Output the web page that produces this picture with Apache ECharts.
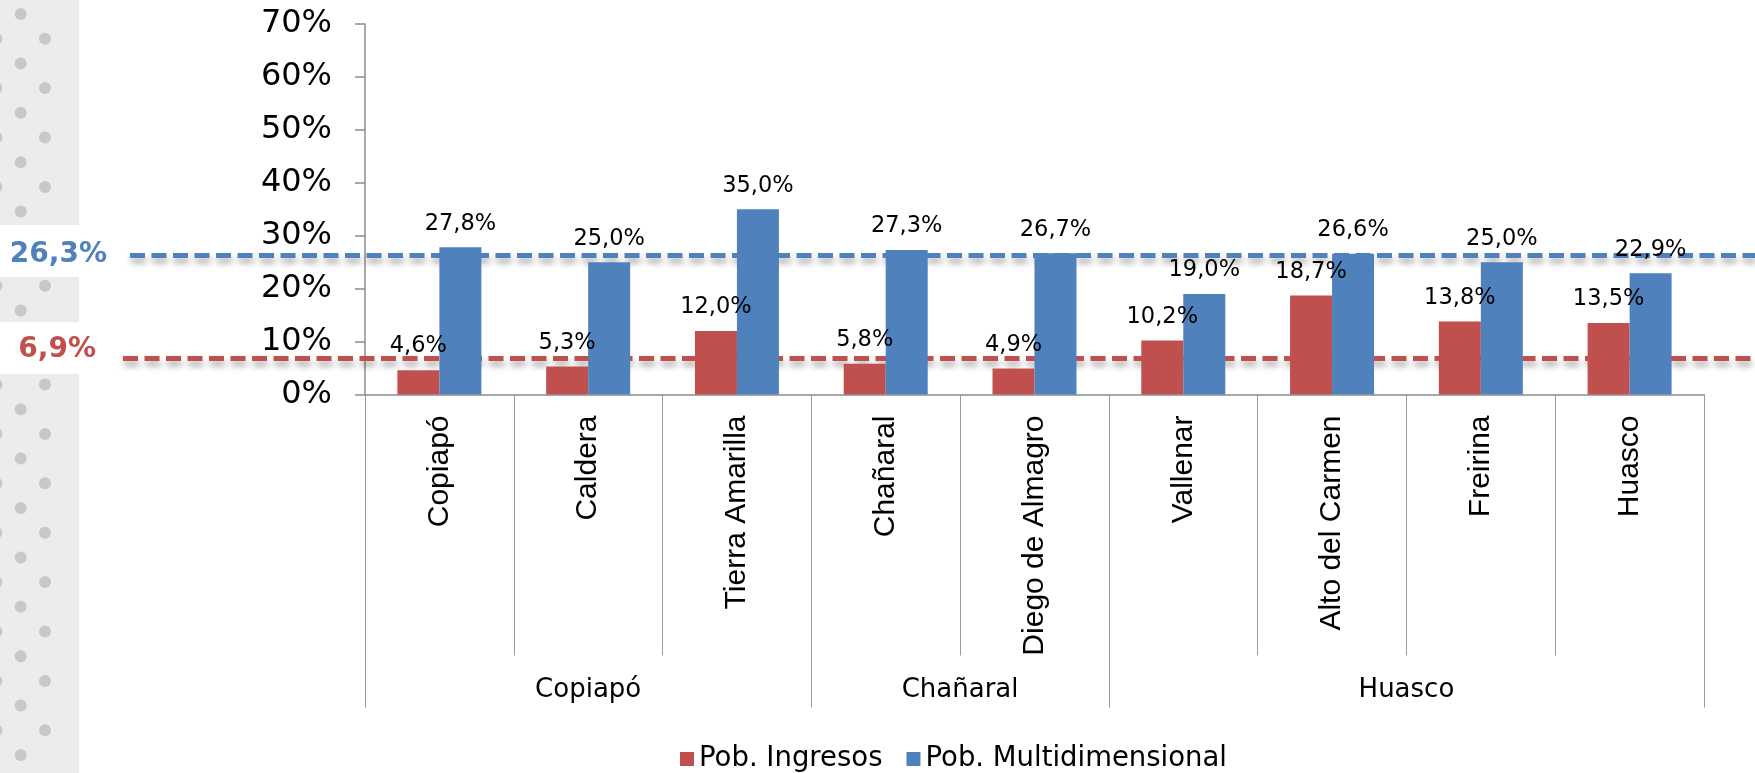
<!DOCTYPE html>
<html><head><meta charset="utf-8">
<script src="https://cdn.jsdelivr.net/npm/echarts@6/dist/echarts.min.js"></script>
<style>html,body{margin:0;padding:0;background:#fff}#c{width:1755px;height:773px}</style>
</head><body><div id="c"></div><script>
const categories = ['Copiapó','Caldera','Tierra Amarilla','Chañaral','Diego de Almagro','Vallenar','Alto del Carmen','Freirina','Huasco'];
const groups = ['Copiapó','Chañaral','Huasco'];
const groupSizes = [3, 2, 4];
const ingresos = [4.6, 5.3, 12.0, 5.8, 4.9, 10.2, 18.7, 13.8, 13.5];
const multidimensional = [27.8, 25.0, 35.0, 27.3, 26.7, 19.0, 26.6, 25.0, 22.9];
const regionalIngresos = 6.9;
const regionalMulti = 26.3;
const seriesNames = ['Pob. Ingresos', 'Pob. Multidimensional'];
const yMax = 70, yStep = 10;

const RED = '#c0504d', BLUE = '#4f81bd';
const fmt = v => v.toFixed(1).replace('.', ',') + '%';

// group boundaries / centers derived from group sizes
const groupBounds = [0];
groupSizes.forEach(s => groupBounds.push(groupBounds[groupBounds.length - 1] + s));
const groupCenters = groups.map((g, i) => (groupBounds[i] + groupBounds[i + 1]) / 2);

// decorative dotted side panel
const panelW = 79;
const panelGaps = [[225, 277], [322, 374]];
const deco = [];
let prev = 0;
panelGaps.forEach(g => { deco.push({type:'rect', shape:{x:0, y:prev, width:panelW, height:g[0]-prev}, style:{fill:'#ececec'}, silent:true}); prev = g[1]; });
deco.push({type:'rect', shape:{x:0, y:prev, width:panelW, height:773-prev}, style:{fill:'#ececec'}, silent:true});
const inGap = (cy, r) => panelGaps.some(g => cy + r > g[0] && cy - r < g[1]);
const dotR = 6, dy = 49.4;
for (let k = 0; k < 17; k++) {
  const ya = 14 + dy * k, yb = 38.7 + dy * k;
  [[20.7, ya], [45, yb], [-3.6, yb]].forEach(p => {
    if (p[1] - dotR < 773 && !inGap(p[1], dotR)) deco.push({type:'circle', shape:{cx:p[0], cy:p[1], r:dotR}, style:{fill:'#c8c8c8'}, silent:true});
  });
}

const chart = echarts.init(document.getElementById('c'), null, {renderer: 'canvas'});
const labelCommon = {show: true, position: 'top', distance: 12, fontSize: 22.5, fontFamily: 'DejaVu Sans', color: '#000', formatter: p => fmt(p.value)};
const lineShadow = {shadowColor: 'rgba(0,0,0,0.35)', shadowBlur: 6, shadowOffsetY: 5, shadowOffsetX: 1};
const refLabel = (value, color, dist, lift) => ({
  show: true, position: 'start', distance: dist,
  formatter: '{a|' + fmt(value) + '}\n{b| }',
  rich: {
    a: {color: color, fontWeight: 'bold', fontSize: 28, fontFamily: 'DejaVu Sans', lineHeight: 28},
    b: {fontSize: 2, lineHeight: lift * 2}
  }
});

chart.setOption({
  animation: false,
  backgroundColor: '#fff',
  graphic: {elements: deco},
  grid: {left: 365, right: 51, top: 24, bottom: 378.5, containLabel: false, outerBoundsMode: 'none'},
  legend: {
    data: seriesNames, left: 675, top: 740, itemWidth: 14, itemHeight: 14, itemGap: 24, icon: 'rect',
    textStyle: {fontSize: 27.5, fontFamily: 'DejaVu Sans', color: '#000'}
  },
  xAxis: [{
    type: 'category', data: categories, boundaryGap: true, position: 'bottom',
    axisLine: {show: true, lineStyle: {color: '#8c8c8c', width: 1.5}},
    axisTick: {show: true, interval: 0, length: 261, lineStyle: {color: '#9a9a9a', width: 1}},
    axisLabel: {interval: 0, rotate: 90, margin: 21, fontSize: 30, fontFamily: 'Liberation Sans', color: '#000'},
    splitLine: {show: false}
  }, {
    type: 'value', min: 0, max: categories.length, position: 'bottom',
    axisLine: {show: false},
    splitLine: {show: false},
    axisTick: {show: true, customValues: groupBounds, length: 313, lineStyle: {color: '#9a9a9a', width: 1}},
    axisLabel: {show: true, customValues: groupCenters, margin: 283, fontSize: 26, fontFamily: 'DejaVu Sans', color: '#000',
      formatter: v => { const i = groupCenters.indexOf(v); return i >= 0 ? groups[i] : ''; }}
  }],
  yAxis: {
    type: 'value', min: 0, max: yMax, interval: yStep,
    axisLine: {show: true, lineStyle: {color: '#8c8c8c', width: 1.5}},
    axisTick: {show: true, length: 10, lineStyle: {color: '#8c8c8c', width: 1.5}},
    axisLabel: {margin: 33, fontSize: 32, fontFamily: 'DejaVu Sans', color: '#000', formatter: '{value}%'},
    splitLine: {show: false}
  },
  series: [{
    name: seriesNames[0], type: 'bar', data: ingresos, barWidth: 42, barGap: '0%', xAxisIndex: 0,
    itemStyle: {color: RED}, label: labelCommon,
    markLine: {
      z: 1, silent: true, symbol: 'none', animation: false,
      lineStyle: Object.assign({color: RED, width: 5, type: [15, 6.5]}, lineShadow),
      label: refLabel(regionalIngresos, RED, 27, 8),
      data: [[{x: 123, yAxis: regionalIngresos}, {x: 1755, yAxis: regionalIngresos}]]
    }
  }, {
    name: seriesNames[1], type: 'bar', data: multidimensional, barWidth: 42, barGap: '0%', xAxisIndex: 0,
    itemStyle: {color: BLUE}, label: labelCommon,
    markLine: {
      z: 1, silent: true, symbol: 'none', animation: false,
      lineStyle: Object.assign({color: BLUE, width: 5, type: [15, 6.5]}, lineShadow),
      label: refLabel(regionalMulti, BLUE, 23, 1),
      data: [[{x: 130, yAxis: regionalMulti}, {x: 1755, yAxis: regionalMulti}]]
    }
  }]
});
</script></body></html>
